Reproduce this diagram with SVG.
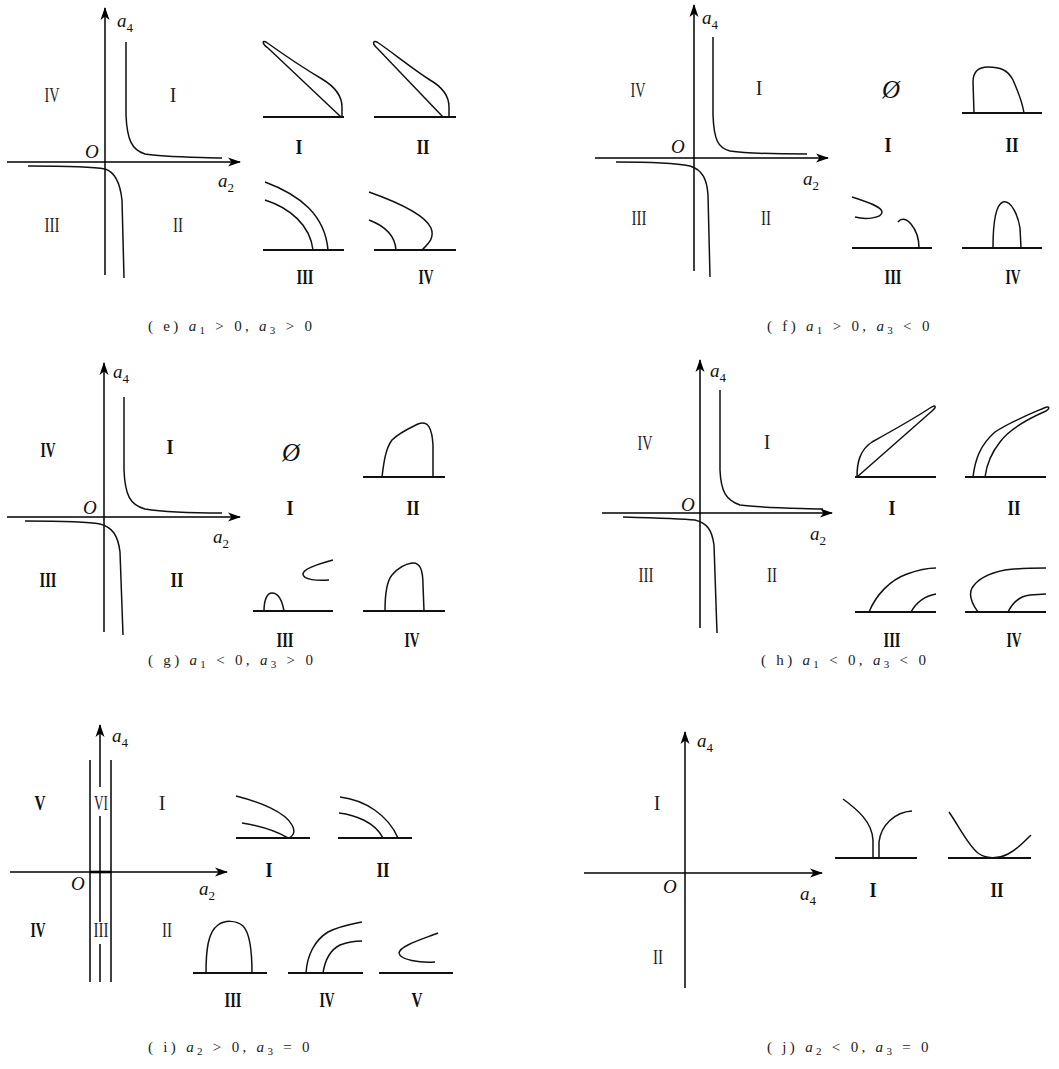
<svg xmlns="http://www.w3.org/2000/svg" width="1059" height="1069" viewBox="0 0 1059 1069">
<style>
.ax{stroke:#000;stroke-width:1.5;fill:none}
.cv{stroke:#111;stroke-width:1.5;fill:none}
.bl{stroke:#111;stroke-width:2.2}
.rn{font-family:"Liberation Serif",serif;font-size:20px;fill:#222;text-anchor:middle}
.bn{font-family:"Liberation Serif",serif;font-size:21px;font-weight:bold;fill:#111;text-anchor:middle}
.lb{font-family:"Liberation Serif",serif;font-size:19px;fill:#111}
.it{font-style:italic}
.sb{font-size:13px}
.cap{font-family:"Liberation Serif",serif;font-size:15px;fill:#222;letter-spacing:3.3px}
.cs{font-size:11px}
.es{font-family:"Liberation Serif",serif;font-size:25px;font-style:italic;fill:#111;text-anchor:middle}
</style>
<defs>
<marker id="ar" markerWidth="13" markerHeight="10" refX="12" refY="5" orient="auto" markerUnits="userSpaceOnUse"><path d="M0,0.5 L13,5 L0,9.5 L3.5,5 z" fill="#000"/></marker>
</defs>
<rect width="1059" height="1069" fill="#fff"/>

<!-- Panel (e) -->
<g id="panel-e">
<g id="e-axes">
<line class="ax" x1="105" y1="275" x2="105" y2="8" marker-end="url(#ar)"/>
<line class="ax" x1="7" y1="162" x2="240" y2="162" marker-end="url(#ar)"/>
<path class="cv" d="M126,42 L126,115 C127,140 132,150 145,154 C160,157 190,157 222,158"/>
<path class="cv" d="M28,166 C70,166 95,167 105,169 C115,172 120,182 122,200 L124,278"/>
</g>
<text class="lb" x="117" y="27"><tspan class="it">a</tspan><tspan class="sb" dy="5">4</tspan></text>
<text class="lb" x="218" y="187"><tspan class="it">a</tspan><tspan class="sb" dy="5">2</tspan></text>
<text class="lb it" x="85" y="158" font-size="17">O</text>
<text class="rn" x="52" y="102" textLength="15" lengthAdjust="spacingAndGlyphs">IV</text>
<text class="rn" x="173" y="102">I</text>
<text class="rn" x="52" y="232" textLength="15" lengthAdjust="spacingAndGlyphs">III</text>
<text class="rn" x="178" y="232" textLength="10" lengthAdjust="spacingAndGlyphs">II</text>
<g id="e-sub-1">
<line class="bl" x1="263" y1="117" x2="344" y2="117"/>
<path class="cv" d="M342,117 L342,107 C342,97 337,88 322,79 C300,66 280,52 266,42 C262,40 262,44 268,48 L341,117"/>
<text class="bn" x="299" y="154" textLength="7" lengthAdjust="spacingAndGlyphs">I</text>
</g>
<g id="e-sub-2">
<line class="bl" x1="374" y1="117" x2="456" y2="117"/>
<path class="cv" d="M449,117 L449,107 C449,97 444,88 430,80 C410,67 392,52 377,42 C373,40 372,44 377,48 L443,117"/>
<text class="bn" x="423" y="154" textLength="13" lengthAdjust="spacingAndGlyphs">II</text>
</g>
<g id="e-sub-3">
<line class="bl" x1="263" y1="250" x2="344" y2="250"/>
<path class="cv" d="M265,182 C300,195 325,215 328,250"/>
<path class="cv" d="M265,200 C290,208 310,225 313,250"/>
<text class="bn" x="305" y="284" textLength="17" lengthAdjust="spacingAndGlyphs">III</text>
</g>
<g id="e-sub-4">
<line class="bl" x1="374" y1="250" x2="456" y2="250"/>
<path class="cv" d="M369,192 C400,203 425,215 431,228 C435,238 428,244 422,250"/>
<path class="cv" d="M369,220 C385,226 395,235 396,250"/>
<text class="bn" x="426" y="284" textLength="15" lengthAdjust="spacingAndGlyphs">IV</text>
</g>
<text class="cap" x="148" y="331" xml:space="preserve">( e) <tspan class="it">a</tspan><tspan class="cs" dy="3">1</tspan><tspan dy="-3"> &gt; 0, </tspan><tspan class="it">a</tspan><tspan class="cs" dy="3">3</tspan><tspan dy="-3"> &gt; 0</tspan></text>
</g>

<!-- Panel (f) -->
<g id="panel-f">
<g id="f-axes">
<line class="ax" x1="694" y1="271" x2="694" y2="5" marker-end="url(#ar)"/>
<line class="ax" x1="595" y1="158" x2="828" y2="158" marker-end="url(#ar)"/>
<path class="cv" d="M713,37 L713,115 C714,140 718,148 730,151 C750,154 780,154 807,154"/>
<path class="cv" d="M616,162 C650,162 680,164 690,166 C703,170 707,180 708,195 L710,277"/>
</g>
<text class="lb" x="702" y="24"><tspan class="it">a</tspan><tspan class="sb" dy="5">4</tspan></text>
<text class="lb" x="803" y="185"><tspan class="it">a</tspan><tspan class="sb" dy="5">2</tspan></text>
<text class="lb it" x="671" y="153" font-size="17">O</text>
<text class="rn" x="638" y="97" textLength="15" lengthAdjust="spacingAndGlyphs">IV</text>
<text class="rn" x="759" y="95">I</text>
<text class="rn" x="639" y="225" textLength="15" lengthAdjust="spacingAndGlyphs">III</text>
<text class="rn" x="766" y="225" textLength="10" lengthAdjust="spacingAndGlyphs">II</text>
<g id="f-sub-1">
<text class="es" x="891" y="98">Ø</text>
<text class="bn" x="888" y="152" textLength="7" lengthAdjust="spacingAndGlyphs">I</text>
</g>
<g id="f-sub-2">
<line class="bl" x1="962" y1="113" x2="1042" y2="113"/>
<path class="cv" d="M974,113 L973,82 C973,72 978,67 988,67 C1000,67 1008,70 1013,80 C1018,92 1022,100 1024,113"/>
<text class="bn" x="1012" y="152" textLength="13" lengthAdjust="spacingAndGlyphs">II</text>
</g>
<g id="f-sub-3">
<line class="bl" x1="852" y1="248" x2="932" y2="248"/>
<path class="cv" d="M852,197 C868,202 882,207 882,212 C882,218 866,220 855,217"/>
<path class="cv" d="M898,222 C901,218 906,218 911,224 C916,230 919,238 919,248"/>
<text class="bn" x="893" y="284" textLength="17" lengthAdjust="spacingAndGlyphs">III</text>
</g>
<g id="f-sub-4">
<line class="bl" x1="962" y1="248" x2="1042" y2="248"/>
<path class="cv" d="M993,248 C993,228 995,205 1003,202 C1011,200 1018,215 1020,228 L1021,248"/>
<text class="bn" x="1013" y="284" textLength="15" lengthAdjust="spacingAndGlyphs">IV</text>
</g>
<text class="cap" x="767" y="331" xml:space="preserve">( f) <tspan class="it">a</tspan><tspan class="cs" dy="3">1</tspan><tspan dy="-3"> &gt; 0, </tspan><tspan class="it">a</tspan><tspan class="cs" dy="3">3</tspan><tspan dy="-3"> &lt; 0</tspan></text>
</g>

<!-- Panel (g) -->
<g id="panel-g">
<g id="g-axes">
<line class="ax" x1="104" y1="632" x2="104" y2="363" marker-end="url(#ar)"/>
<line class="ax" x1="7" y1="517" x2="240" y2="517" marker-end="url(#ar)"/>
<path class="cv" d="M124,397 L124,470 C125,495 130,505 145,509 C170,513 200,513 222,513"/>
<path class="cv" d="M25,521 C60,521 90,522 100,524 C112,527 118,535 120,552 L123,635"/>
</g>
<text class="lb" x="113" y="378"><tspan class="it">a</tspan><tspan class="sb" dy="5">4</tspan></text>
<text class="lb" x="213" y="543"><tspan class="it">a</tspan><tspan class="sb" dy="5">2</tspan></text>
<text class="lb it" x="83" y="514" font-size="17">O</text>
<text class="bn" x="48" y="457" textLength="15" lengthAdjust="spacingAndGlyphs">IV</text>
<text class="bn" x="170" y="454" textLength="7" lengthAdjust="spacingAndGlyphs">I</text>
<text class="bn" x="48" y="587" textLength="17" lengthAdjust="spacingAndGlyphs">III</text>
<text class="bn" x="177" y="587" textLength="13" lengthAdjust="spacingAndGlyphs">II</text>
<g id="g-sub-1">
<text class="es" x="291" y="461">Ø</text>
<text class="bn" x="290" y="515" textLength="7" lengthAdjust="spacingAndGlyphs">I</text>
</g>
<g id="g-sub-2">
<line class="bl" x1="363" y1="477" x2="445" y2="477"/>
<path class="cv" d="M382,477 C384,460 386,448 392,440 C400,432 410,428 418,424 C428,420 432,428 433,445 L433,477"/>
<text class="bn" x="413" y="515" textLength="13" lengthAdjust="spacingAndGlyphs">II</text>
</g>
<g id="g-sub-3">
<line class="bl" x1="253" y1="611" x2="333" y2="611"/>
<path class="cv" d="M264,611 C264,600 267,593 272,593 C278,593 282,600 284,611"/>
<path class="cv" d="M333,560 C318,564 303,569 303,574 C303,580 318,581 329,580"/>
<text class="bn" x="285" y="647" textLength="17" lengthAdjust="spacingAndGlyphs">III</text>
</g>
<g id="g-sub-4">
<line class="bl" x1="363" y1="611" x2="445" y2="611"/>
<path class="cv" d="M385,611 C385,595 386,582 392,575 C398,568 405,564 412,563 C420,562 423,570 423,585 L424,611"/>
<text class="bn" x="412" y="647" textLength="15" lengthAdjust="spacingAndGlyphs">IV</text>
</g>
<text class="cap" x="148" y="665" xml:space="preserve">( g) <tspan class="it">a</tspan><tspan class="cs" dy="3">1</tspan><tspan dy="-3"> &lt; 0, </tspan><tspan class="it">a</tspan><tspan class="cs" dy="3">3</tspan><tspan dy="-3"> &gt; 0</tspan></text>
</g>

<!-- Panel (h) -->
<g id="panel-h">
<g id="h-axes">
<line class="ax" x1="700" y1="628" x2="700" y2="360" marker-end="url(#ar)"/>
<line class="ax" x1="602" y1="513" x2="832" y2="513" marker-end="url(#ar)"/>
<path class="cv" d="M720,390 L720,470 C721,492 726,500 740,505 C760,508 790,508 823,509"/>
<path class="cv" d="M623,517 C660,518 685,519 695,520 C707,523 712,530 714,545 L717,633"/>
</g>
<text class="lb" x="710" y="377"><tspan class="it">a</tspan><tspan class="sb" dy="5">4</tspan></text>
<text class="lb" x="810" y="540"><tspan class="it">a</tspan><tspan class="sb" dy="5">2</tspan></text>
<text class="lb it" x="681" y="511" font-size="17">O</text>
<text class="rn" x="645" y="450" textLength="15" lengthAdjust="spacingAndGlyphs">IV</text>
<text class="rn" x="767" y="449">I</text>
<text class="rn" x="646" y="582" textLength="15" lengthAdjust="spacingAndGlyphs">III</text>
<text class="rn" x="772" y="582" textLength="10" lengthAdjust="spacingAndGlyphs">II</text>
<g id="h-sub-1">
<line class="bl" x1="855" y1="477" x2="936" y2="477"/>
<path class="cv" d="M857,477 C857,462 860,450 872,442 C890,432 915,418 930,408 C936,404 937,407 932,411 L857,477"/>
<text class="bn" x="892" y="515" textLength="7" lengthAdjust="spacingAndGlyphs">I</text>
</g>
<g id="h-sub-2">
<line class="bl" x1="965" y1="477" x2="1046" y2="477"/>
<path class="cv" d="M973,477 C975,460 980,445 995,432 C1010,422 1030,414 1044,408 C1050,405 1050,409 1046,411 C1030,418 1010,428 1000,442 C992,452 987,462 985,477"/>
<text class="bn" x="1014" y="515" textLength="13" lengthAdjust="spacingAndGlyphs">II</text>
</g>
<g id="h-sub-3">
<line class="bl" x1="855" y1="612" x2="936" y2="612"/>
<path class="cv" d="M869,612 C876,595 890,580 907,574 C918,570 928,568 936,568"/>
<path class="cv" d="M911,612 C916,603 925,596 936,594"/>
<text class="bn" x="892" y="647" textLength="17" lengthAdjust="spacingAndGlyphs">III</text>
</g>
<g id="h-sub-4">
<line class="bl" x1="965" y1="612" x2="1046" y2="612"/>
<path class="cv" d="M978,612 C972,604 968,596 972,588 C978,578 990,573 1005,570 C1020,568 1035,568 1046,568"/>
<path class="cv" d="M1008,612 C1013,602 1020,596 1030,595 L1046,594"/>
<text class="bn" x="1014" y="647" textLength="15" lengthAdjust="spacingAndGlyphs">IV</text>
</g>
<text class="cap" x="761" y="665" xml:space="preserve">( h) <tspan class="it">a</tspan><tspan class="cs" dy="3">1</tspan><tspan dy="-3"> &lt; 0, </tspan><tspan class="it">a</tspan><tspan class="cs" dy="3">3</tspan><tspan dy="-3"> &lt; 0</tspan></text>
</g>

<!-- Panel (i) -->
<g id="panel-i">
<g id="i-axes">
<line class="ax" x1="100" y1="787" x2="100" y2="725" marker-end="url(#ar)"/>
<line class="ax" x1="100" y1="816" x2="100" y2="922"/>
<line class="ax" x1="100" y1="944" x2="100" y2="982"/>
<line class="ax" x1="90" y1="760" x2="90" y2="982"/>
<line class="ax" x1="111" y1="760" x2="111" y2="982"/>
<line class="ax" x1="10" y1="872" x2="227" y2="872" marker-end="url(#ar)"/>
<line x1="90" y1="872" x2="111" y2="872" stroke="#000" stroke-width="2.6"/>
</g>
<text class="lb" x="112" y="742"><tspan class="it">a</tspan><tspan class="sb" dy="5">4</tspan></text>
<text class="lb" x="199" y="895"><tspan class="it">a</tspan><tspan class="sb" dy="5">2</tspan></text>
<text class="lb it" x="71" y="890" font-size="17">O</text>
<text class="bn" x="40" y="810" textLength="11" lengthAdjust="spacingAndGlyphs">V</text>
<text class="rn" x="101" y="810" textLength="14" lengthAdjust="spacingAndGlyphs">VI</text>
<text class="rn" x="162" y="810">I</text>
<text class="bn" x="38" y="937" textLength="15" lengthAdjust="spacingAndGlyphs">IV</text>
<text class="rn" x="101" y="937" textLength="15" lengthAdjust="spacingAndGlyphs">III</text>
<text class="rn" x="167" y="937" textLength="10" lengthAdjust="spacingAndGlyphs">II</text>
<g id="i-sub-1">
<line class="bl" x1="236" y1="838" x2="310" y2="838"/>
<path class="cv" d="M236,796 C260,802 285,812 292,825 C296,832 293,836 289,838"/>
<path class="cv" d="M242,823 C260,826 278,832 288,838"/>
<text class="bn" x="269" y="877" textLength="7" lengthAdjust="spacingAndGlyphs">I</text>
</g>
<g id="i-sub-2">
<line class="bl" x1="338" y1="838" x2="412" y2="838"/>
<path class="cv" d="M340,797 C365,800 388,815 398,838"/>
<path class="cv" d="M339,813 C355,815 375,822 383,838"/>
<text class="bn" x="383" y="877" textLength="13" lengthAdjust="spacingAndGlyphs">II</text>
</g>
<g id="i-sub-3">
<line class="bl" x1="193" y1="973" x2="267" y2="973"/>
<path class="cv" d="M206,973 C206,950 208,932 218,925 C225,920 236,920 243,926 C250,933 252,950 252,973"/>
<text class="bn" x="233" y="1007" textLength="17" lengthAdjust="spacingAndGlyphs">III</text>
</g>
<g id="i-sub-4">
<line class="bl" x1="288" y1="973" x2="363" y2="973"/>
<path class="cv" d="M306,973 C307,955 315,940 328,932 C340,926 352,924 362,922"/>
<path class="cv" d="M323,973 C325,960 330,950 340,945 C348,942 356,941 362,941"/>
<text class="bn" x="327" y="1007" textLength="15" lengthAdjust="spacingAndGlyphs">IV</text>
</g>
<g id="i-sub-5">
<line class="bl" x1="379" y1="973" x2="453" y2="973"/>
<path class="cv" d="M438,933 C420,940 400,946 399,953 C400,960 420,963 435,962"/>
<text class="bn" x="417" y="1007" textLength="11" lengthAdjust="spacingAndGlyphs">V</text>
</g>
<text class="cap" x="148" y="1052" xml:space="preserve">( i) <tspan class="it">a</tspan><tspan class="cs" dy="3">2</tspan><tspan dy="-3"> &gt; 0, </tspan><tspan class="it">a</tspan><tspan class="cs" dy="3">3</tspan><tspan dy="-3"> = 0</tspan></text>
</g>

<!-- Panel (j) -->
<g id="panel-j">
<g id="j-axes">
<line class="ax" x1="685" y1="988" x2="685" y2="732" marker-end="url(#ar)"/>
<line class="ax" x1="584" y1="873" x2="822" y2="873" marker-end="url(#ar)"/>
</g>
<text class="lb" x="697" y="747"><tspan class="it">a</tspan><tspan class="sb" dy="5">4</tspan></text>
<text class="lb" x="800" y="900"><tspan class="it">a</tspan><tspan class="sb" dy="5">4</tspan></text>
<text class="lb it" x="663" y="893" font-size="17">O</text>
<text class="rn" x="657" y="810">I</text>
<text class="rn" x="658" y="964" textLength="10" lengthAdjust="spacingAndGlyphs">II</text>
<g id="j-sub-1">
<line class="bl" x1="835" y1="858" x2="917" y2="858"/>
<path class="cv" d="M843,799 C858,810 872,822 873,840 L873,858"/>
<path class="cv" d="M879,858 L879,842 C881,825 895,812 912,811"/>
<text class="bn" x="873" y="897" textLength="7" lengthAdjust="spacingAndGlyphs">I</text>
</g>
<g id="j-sub-2">
<line class="bl" x1="948" y1="858" x2="1031" y2="858"/>
<path class="cv" d="M949,812 C960,828 968,845 978,853 C986,859 998,859 1008,854 C1018,849 1025,841 1031,835"/>
<text class="bn" x="997" y="897" textLength="13" lengthAdjust="spacingAndGlyphs">II</text>
</g>
<text class="cap" x="767" y="1052" xml:space="preserve">( j) <tspan class="it">a</tspan><tspan class="cs" dy="3">2</tspan><tspan dy="-3"> &lt; 0, </tspan><tspan class="it">a</tspan><tspan class="cs" dy="3">3</tspan><tspan dy="-3"> = 0</tspan></text>
</g>
</svg>
